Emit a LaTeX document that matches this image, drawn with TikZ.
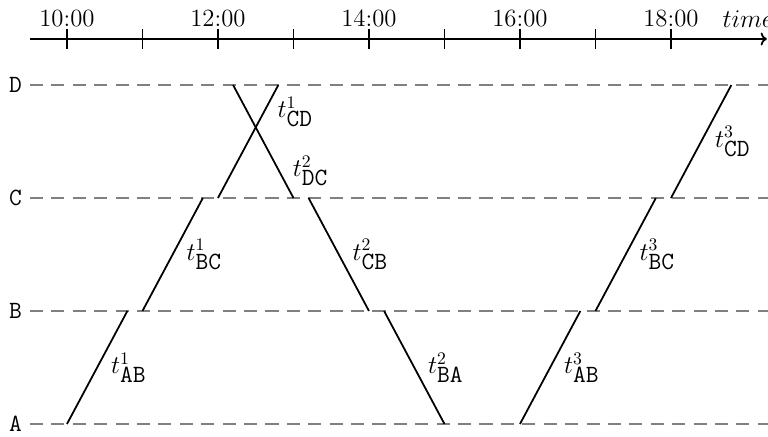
\documentclass[tikz,border=0pt]{standalone}
\usepackage{fontspec}
\usetikzlibrary{arrows.meta}
\newcommand{\figfont}{\fontsize{14}{17}\selectfont}

\begin{document}
\begin{tikzpicture}[x=1.5cm, y=2.245cm,
        every node/.style={font=\figfont},
        lane/.style={line width=1.1pt, black!50, dash pattern=on 7.4pt off 4.7pt},
        run/.style={line width=1pt, black},
        lbl/.style={right=4pt, font=\figfont},
        tick/.style={line width=1pt}
    ]
        \useasboundingbox (-0.887,-0.115) rectangle (9.285,3.752);
        % time axis
        \draw[line width=1pt, -{To[length=3.5pt]}] (-0.49,3.407) -- (9.27,3.407);
        \foreach \h in {0,...,8}
            \draw[tick] (\h,3.407) ++(0,-5.5pt) -- ++(0,11pt);
        \foreach \h/\t in {0/10:00, 2/12:00, 4/14:00, 6/16:00, 8/18:00}
            \node[above=3pt, font=\figfont] (h\h) at (\h,3.407) {\t};
        \node[above=3pt, font=\figfont] (time) at (9.02,3.407) {$time$};
        % stations
        \foreach \y/\s in {0/A, 1/B, 2/C, 3/D} {
            \draw[lane] (-0.49,\y) -- (9.285,\y);
            \node[left=1pt, font=\figfont] (st\s) at (-0.49,\y) {\texttt{\s}};
        }
        % train 1
        \draw[run] (0,0) -- node[lbl] (t1ab) {$t^1_{\texttt{AB}}$} (0.8,1);
        \draw[run] (1,1) -- node[lbl] (t1bc) {$t^1_{\texttt{BC}}$} (1.8,2);
        \draw[run] (2,2) -- node[lbl, pos=0.76] (t1cd) {$t^1_{\texttt{CD}}$} (2.8,3);
        % train 2
        \draw[run] (2.2,3) -- node[lbl, pos=0.76, right=0pt] (t2dc) {$t^2_{\texttt{DC}}$} (3,2);
        \draw[run] (3.2,2) -- node[lbl] (t2cb) {$t^2_{\texttt{CB}}$} (4,1);
        \draw[run] (4.2,1) -- node[lbl] (t2ba) {$t^2_{\texttt{BA}}$} (5,0);
        % train 3
        \draw[run] (6,0) -- node[lbl] (t3ab) {$t^3_{\texttt{AB}}$} (6.8,1);
        \draw[run] (7,1) -- node[lbl] (t3bc) {$t^3_{\texttt{BC}}$} (7.8,2);
        \draw[run] (8,2) -- node[lbl] (t3cd) {$t^3_{\texttt{CD}}$} (8.8,3);
    \end{tikzpicture}
\end{document}
